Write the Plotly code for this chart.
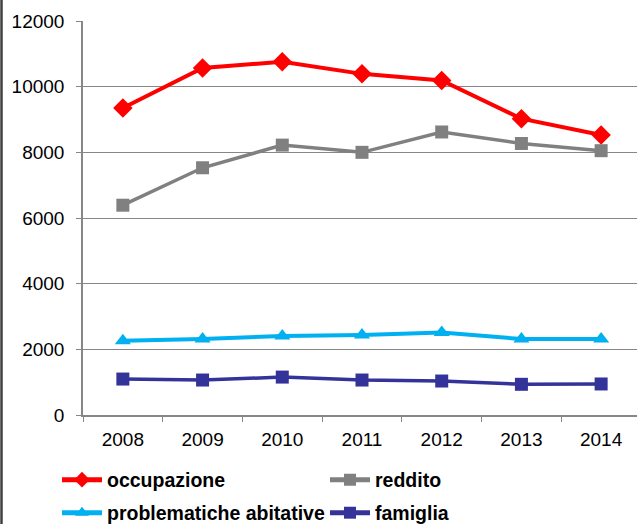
import plotly.graph_objects as go

years = ["2008", "2009", "2010", "2011", "2012", "2013", "2014"]
occupazione = [9350, 10570, 10760, 10390, 10190, 9025, 8530]
reddito = [6390, 7530, 8220, 8000, 8620, 8270, 8050]
problematiche_abitative = [2260, 2315, 2405, 2435, 2515, 2315, 2315]
famiglia = [1095, 1065, 1155, 1065, 1035, 935, 945]
y_ticks = [0, 2000, 4000, 6000, 8000, 10000, 12000]

W, H = 637, 524
L, R, T, B = 83, 0, 21, 109
pw, ph = W - L - R, H - T - B
FONT = "Liberation Sans, Arial, sans-serif"
GRID = "#878787"

fig = go.Figure()
series = [
    ("occupazione", occupazione, "#FF0000", "diamond", 15, 4, "legend", 57, 480),
    ("reddito", reddito, "#808080", "square", 13, 3.5, "legend2", 325, 480),
    ("problematiche abitative", problematiche_abitative, "#00B0F0", "triangle-up", 14, 4, "legend3", 57, 513),
    ("famiglia", famiglia, "#333399", "square", 13, 3.5, "legend4", 325, 513),
]
legends = {}
for name, vals, col, sym, msz, lw, lg, lx, ly in series:
    fig.add_trace(go.Scatter(
        x=years, y=vals, name=name, mode="lines+markers",
        line=dict(color=col, width=lw),
        marker=dict(symbol=sym, size=msz, color=col),
        legend=lg,
    ))
    legends[lg] = dict(
        x=lx / W, y=1 - ly / H, xref="container", yref="container",
        xanchor="left", yanchor="middle", orientation="h",
        font=dict(family=FONT, size=19.5, color="#000000", weight="bold"),
        bgcolor="rgba(0,0,0,0)", itemwidth=40, itemsizing="constant",
    )

fig.update_layout(
    width=W, height=H,
    margin=dict(l=L, r=R, t=T, b=B, autoexpand=False),
    paper_bgcolor="white", plot_bgcolor="white",
    font=dict(family=FONT, size=19, color="#000000"),
    showlegend=True,
    xaxis=dict(
        type="category", range=[-0.5, 6.45],
        showgrid=False, showline=True, linecolor=GRID, linewidth=1.5,
        ticks="outside", tickson="boundaries", ticklen=5, tickcolor=GRID,
        tickfont=dict(family=FONT, size=19, color="#000000"),
        ticklabelstandoff=6,
    ),
    yaxis=dict(
        range=[0, 12000], tickvals=y_ticks, ticktext=[str(v) for v in y_ticks],
        showgrid=True, gridcolor=GRID, gridwidth=1,
        zeroline=False, showline=True, linecolor=GRID, linewidth=1.5,
        ticks="outside", ticklen=5, tickcolor=GRID,
        tickfont=dict(family=FONT, size=19, color="#000000"),
        ticklabelstandoff=8,
    ),
    shapes=[dict(
        type="line", xref="paper", yref="paper",
        x0=-(L - 1.5) / pw, x1=-(L - 1.5) / pw, y0=-B / ph, y1=1 + T / ph,
        line=dict(color="#404040", width=2.5),
    )],
    **legends,
)

fig.write_html("out.html", config={"displayModeBar": False},
               post_script="document.body.style.margin='0';")
